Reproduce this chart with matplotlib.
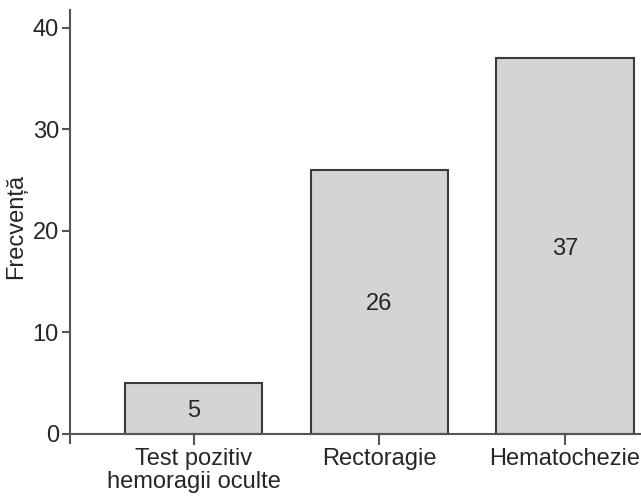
import matplotlib
matplotlib.use("Agg")
import matplotlib.pyplot as plt

categories = ["Test pozitiv\nhemoragii oculte", "Rectoragie", "Hematochezie"]
values = [5, 26, 37]
yticks = [0, 10, 20, 30, 40]

plt.rcParams['font.family'] = ['Liberation Sans', 'DejaVu Sans']

fig = plt.figure(figsize=(6.41, 4.99), dpi=100)
ax = fig.add_axes([70/641, 56/499, 1 - 70/641, (443 - 9.7)/499])

edge = '#3a3a3a'
x = list(range(len(categories)))
bars = ax.bar(x, values, width=0.74, color='#d4d4d4', edgecolor=edge, linewidth=1.5, zorder=2)
for xi, v in zip(x, values):
    ax.text(xi, v / 2, str(v), ha='center', va='center_baseline', fontsize=17, color='#262626')

ax.set_xlim(-0.666, 2.41)
ax.set_ylim(-0.9, 41.8)
ax.spines['top'].set_visible(False)
ax.spines['right'].set_visible(False)
ax.spines['bottom'].set_position(('data', 0))
for s in ['left', 'bottom']:
    ax.spines[s].set_color('#555555')
    ax.spines[s].set_linewidth(1.5)
ax.set_yticks(yticks)
ax.set_xticks(x)
ax.set_xticklabels(categories, linespacing=1.05)
ax.tick_params(axis='both', direction='out', length=6, width=1.5, color='#555555',
               labelsize=17, labelcolor='#262626', pad=2)
ax.tick_params(axis='x', length=8, pad=2)
ax.set_ylabel('Frecvență', fontsize=17, color='#262626', labelpad=4)

fig.savefig('out.png', dpi=100)
